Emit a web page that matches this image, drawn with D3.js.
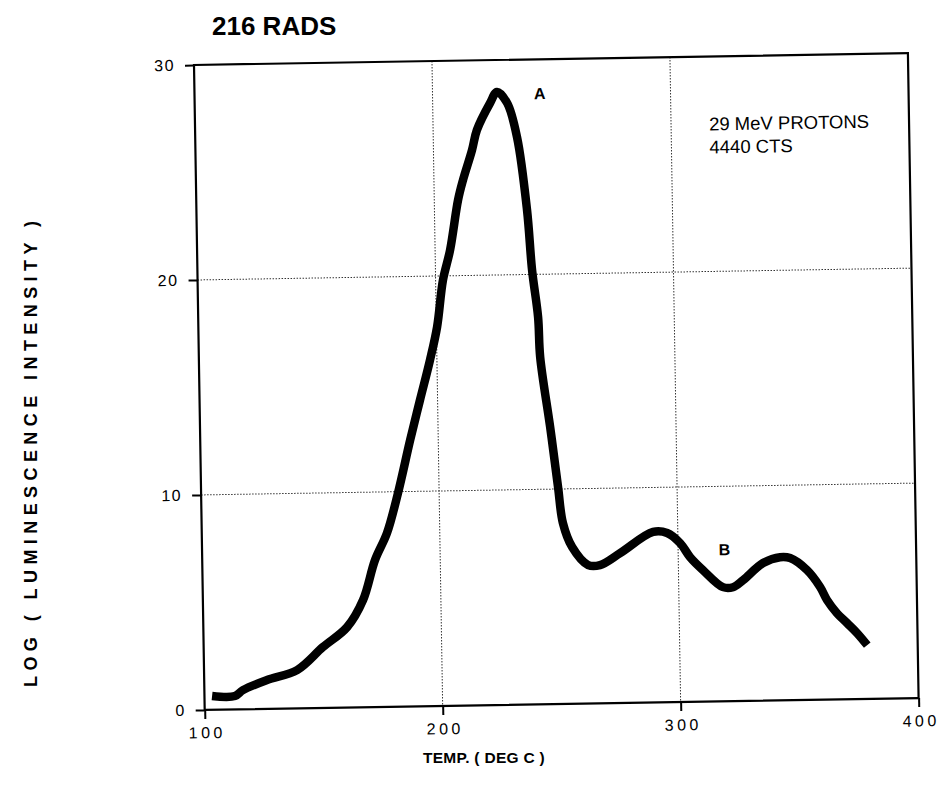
<!DOCTYPE html>
<html>
<head>
<meta charset="utf-8">
<script src="https://cdn.jsdelivr.net/npm/d3@7"></script>
<style>
  html, body { margin: 0; padding: 0; background: #fff; }
  svg { display: block; font-family: "Liberation Sans", Arial, Helvetica, sans-serif; }
</style>
</head>
<body>
<svg id="chart" width="946" height="794"></svg>
<script>
// ---- data ----
const temps = [103.2, 112.8, 116.2, 126.4, 139.1, 150.1, 160.4, 167.3, 172.6, 177.8,
               182.7, 188.2, 192.6, 197.1, 200.3, 203.1, 206.3, 210.0, 212.2, 216.2,
               218.4, 224.1, 227.1, 231.3, 235.2, 238.9, 240.6, 242.8, 243.4, 247.1,
               250.0, 251.8, 255.5, 262.1, 267.1, 275.6, 289.6, 295.5, 300.9, 305.0,
               310.3, 318.6, 322.8, 327.1, 335.6, 342.8, 347.0, 354.0, 359.4, 362.2,
               366.3, 370.5, 374.6, 378.8];
const intensity = [0.64, 0.62, 0.89, 1.34, 1.78, 2.83, 3.74, 4.99, 6.84, 8.08,
                   9.93, 12.39, 14.24, 16.10, 17.63, 19.81, 21.20, 23.52, 24.44, 25.83,
                   26.76, 28.00, 28.51, 27.99, 26.40, 23.00, 20.20, 18.01, 16.15, 12.89,
                   10.09, 8.41, 7.29, 6.44, 6.43, 6.97, 7.93, 7.87, 7.39, 6.73,
                   6.12, 5.31, 5.30, 5.62, 6.40, 6.66, 6.61, 6.04, 5.24, 4.63,
                   4.01, 3.54, 3.07, 2.50];
const xTicks = [100, 200, 300, 400];
const yTicks = [0, 10, 20, 30];
const xDomain = [100, 400];
const yDomain = [0, 30];
const titleText = "216 RADS";
const xLabel = "TEMP. ( DEG C )";
const yLabel = "LOG ( LUMINESCENCE INTENSITY )";
const noteLines = ["29 MeV PROTONS", "4440 CTS"];
const peakLabels = [{ name: "A", t: 245, v: 28.15 }, { name: "B", t: 319.5, v: 6.8 }];

// ---- layout ----
const W = 714, H = 645;
const svg = d3.select("#chart");
const g = svg.append("g").attr("transform", "translate(194,65) rotate(-0.95)");

const x = d3.scaleLinear().domain(xDomain).range([0, W]);
const y = d3.scaleLinear().domain(yDomain).range([H, 0]);

// grid
g.append("g").selectAll("line").data(xTicks.filter(t => t > xDomain[0] && t < xDomain[1]))
  .join("line")
  .attr("x1", d => x(d)).attr("x2", d => x(d)).attr("y1", 0).attr("y2", H)
  .attr("stroke", "#333").attr("stroke-width", 1).attr("stroke-dasharray", "1.5,1.5");
g.append("g").selectAll("line").data(yTicks.filter(t => t > yDomain[0] && t < yDomain[1]))
  .join("line")
  .attr("x1", 0).attr("x2", W).attr("y1", d => y(d)).attr("y2", d => y(d))
  .attr("stroke", "#333").attr("stroke-width", 1).attr("stroke-dasharray", "1.5,1.5");

// axes via d3
const xAxis = d3.axisBottom(x).tickValues(xTicks).tickSize(9).tickPadding(8).tickFormat(d3.format("d"));
const yAxis = d3.axisLeft(y).tickValues(yTicks).tickSize(9).tickPadding(10).tickFormat(d3.format("d"));
const gx = g.append("g").attr("transform", `translate(0,${H})`).call(xAxis);
const gy = g.append("g").call(yAxis);
[gx, gy].forEach(a => {
  a.attr("font-size", 16).attr("font-family", "'Liberation Sans', Arial, sans-serif");
  a.select(".domain").remove();
  a.selectAll(".tick line").attr("stroke", "#000").attr("stroke-width", 2);
  a.selectAll(".tick text").attr("fill", "#000").attr("font-size", 16);
});
gx.selectAll(".tick text").style("letter-spacing", "3.5px").attr("dx", "1.75px");
gy.selectAll(".tick text").style("letter-spacing", "1.5px");

// frame
g.append("rect").attr("x", 0).attr("y", 0).attr("width", W).attr("height", H)
  .attr("fill", "none").attr("stroke", "#000").attr("stroke-width", 2.2);

// curve
const pts = temps.map((t, i) => [t, intensity[i]]);
const line = d3.line().x(d => x(d[0])).y(d => y(d[1])).curve(d3.curveCatmullRom.alpha(0.5));
g.append("path").datum(pts).attr("d", line)
  .attr("fill", "none").attr("stroke", "#000").attr("stroke-width", 8.5)
  .attr("stroke-linejoin", "round").attr("stroke-linecap", "butt");

// peak labels
g.selectAll(".peak").data(peakLabels).join("text").attr("class", "peak")
  .attr("x", d => x(d.t)).attr("y", d => y(d.v))
  .attr("text-anchor", "middle").style("font-size", "16px").style("font-weight", "bold")
  .text(d => d.name);

// note
g.append("text").attr("x", 514).attr("y", 74).style("font-size", "18.5px")
  .selectAll("tspan").data(noteLines).join("tspan")
  .attr("x", 514).attr("dy", (d, i) => i === 0 ? 0 : 23).text(d => d);

// title & axis labels
svg.append("text").attr("x", 212).attr("y", 35).style("font-size", "26px").style("font-weight", "bold")
  .text(titleText);
svg.append("text").attr("x", 484).attr("y", 763).attr("text-anchor", "middle")
  .style("font-size", "15.5px").style("font-weight", "bold").style("letter-spacing", "0.3px")
  .text(xLabel);
svg.append("text").attr("transform", "translate(37,454) rotate(-90)").attr("text-anchor", "middle")
  .attr("textLength", 466).attr("lengthAdjust", "spacing")
  .style("font-size", "18px").style("font-weight", "bold")
  .text(yLabel);
</script>
</body>
</html>
